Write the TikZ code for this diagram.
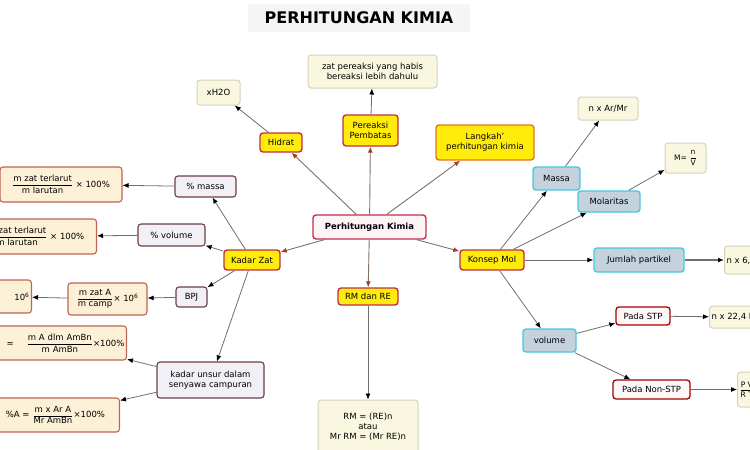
\documentclass[tikz,border=0pt]{standalone}
\usepackage{amsmath}
\usepackage{fontspec}
\setmainfont{DejaVu Sans}
\usetikzlibrary{arrows.meta,positioning}

\definecolor{kuning}{RGB}{255,236,10}
\definecolor{merah}{RGB}{195,45,75}
\definecolor{oranye}{RGB}{232,112,40}
\definecolor{krem}{RGB}{249,247,224}
\definecolor{kremtepi}{RGB}{214,210,186}
\definecolor{rumus}{RGB}{252,241,214}
\definecolor{rumustepi}{RGB}{190,100,80}
\definecolor{abu}{RGB}{240,240,246}
\definecolor{abutepi}{RGB}{110,60,70}
\definecolor{biru}{RGB}{196,210,222}
\definecolor{birutepi}{RGB}{70,200,225}
\definecolor{garis}{RGB}{110,110,110}
\definecolor{panahmerah}{RGB}{160,60,40}

\newcommand{\pecahan}[2]{$\dfrac{\text{#1}}{\text{#2}}$}

\begin{document}
\begin{tikzpicture}
  [x=1pt,y=-1pt,font=\fontsize{8.5}{10}\selectfont,
  box/.style={rounded corners=3pt,align=center,inner sep=2pt},
  yellowbox/.style={box,fill=kuning,draw=merah,line width=1.4pt},
  mainbox/.style={box,fill=merah!5,draw=merah,line width=1.4pt,font=\fontsize{8.5}{10}\selectfont\bfseries},
  leafbox/.style={box,fill=krem,draw=kremtepi,line width=1pt},
  formbox/.style={box,fill=rumus,draw=rumustepi,line width=1.1pt,font=\fontsize{8.5}{9}\selectfont},
  graybox/.style={box,fill=abu,draw=abutepi,line width=1.1pt},
  bluebox/.style={box,fill=biru,draw=birutepi,line width=1.4pt},
  redbox/.style={box,fill=merah!4,draw=red!65!black,line width=1.3pt},
  link/.style={draw=garis,line width=0.8pt,-{Latex[length=6pt,width=5pt,color=black]}},
  redlink/.style={draw=garis!80!brown,line width=0.9pt,-{Latex[length=6pt,width=5pt,color=panahmerah]}}]
  \useasboundingbox (0,0) rectangle (750,450);
  \clip (0,0) rectangle (750,450);

  % judul
  \node[fill=gray!8,minimum width=222,minimum height=28,font=\fontsize{16}{18}\selectfont\bfseries] (judul) at (359,18) {PERHITUNGAN KIMIA};

  % tengah
  \node[mainbox,minimum width=113,minimum height=24] (pk) at (369.5,227) {Perhitungan Kimia};
  \node[yellowbox,minimum width=42,minimum height=19] (hidrat) at (281,142.5) {Hidrat};
  \node[yellowbox,minimum width=55,minimum height=31] (pembatas) at (370.5,130.5) {Pereaksi\\Pembatas};
  \node[yellowbox,draw=oranye,minimum width=98,minimum height=35] (langkah) at (485,142.5) {Langkah'\\perhitungan kimia};
  \node[yellowbox,minimum width=56,minimum height=20] (kadar) at (252,260) {Kadar Zat};
  \node[yellowbox,minimum width=64,minimum height=20] (mol) at (492,260) {Konsep Mol};
  \node[yellowbox,minimum width=60,minimum height=17] (rmre) at (368,296.5) {RM dan RE};

  \node[leafbox,minimum width=43,minimum height=25] (xh2o) at (218.5,92.5) {xH2O};
  \node[leafbox,minimum width=129,minimum height=33] (habis) at (372.5,71.5) {zat pereaksi yang habis\\bereaksi lebih dahulu};
  \node[leafbox,minimum width=100,minimum height=54,inner sep=1pt] (rumusrm) at (368,427) {RM = (RE)n\\atau\\Mr RM = (Mr RE)n};

  % kadar zat
  \node[graybox,minimum width=61,minimum height=21] (massa) at (205.5,186.5) {\% massa};
  \node[graybox,minimum width=67,minimum height=22] (volpersen) at (171.5,235) {\% volume};
  \node[graybox,minimum width=31,minimum height=20] (bpj) at (191.5,297) {BPJ};
  \node[graybox,minimum width=107,minimum height=36] (unsur) at (210.5,380) {kadar unsur dalam\\senyawa campuran};

  \node[formbox,minimum width=122,minimum height=35] (f1) at (61,184.5) {\pecahan{m zat terlarut}{m larutan} × 100\%};
  \node[formbox,anchor=east,minimum width=122,minimum height=35] (f2) at (97,236.5) {\pecahan{m zat terlarut}{m larutan} × 100\%};
  \node[formbox,minimum width=79,minimum height=32] (f3) at (107.5,299) {\pecahan{m zat A}{m camp}× 10\textsuperscript{6}};
  \node[formbox,anchor=east,text width=62,align=right,minimum height=33] (f4) at (32,296.5) {10\textsuperscript{6}};
  \node[formbox,anchor=east,text width=126,align=right,minimum height=34] (f5) at (127,343) {= \hspace{10pt}\pecahan{m A dlm AmBn}{m AmBn}×100\%};
  \node[formbox,anchor=east,minimum width=128,minimum height=34] (f6) at (120,415) {\%A = \pecahan{m x Ar A}{Mr AmBn}×100\%};

  % konsep mol
  \node[bluebox,minimum width=47,minimum height=23] (massamol) at (556.5,178.5) {Massa};
  \node[bluebox,minimum width=62,minimum height=21] (molar) at (609,201.5) {Molaritas};
  \node[bluebox,minimum width=90,minimum height=24] (partikel) at (639,260) {Jumlah partikel};
  \node[bluebox,minimum width=53,minimum height=23] (volmol) at (549.5,340.5) {volume};
  \node[redbox,minimum width=54,minimum height=18] (stp) at (643,316) {Pada STP};
  \node[redbox,minimum width=77,minimum height=19] (nonstp) at (651.5,389.5) {Pada Non-STP};

  \node[leafbox,minimum width=60,minimum height=23] (arm) at (608,108.5) {n x Ar/Mr};
  \node[leafbox,minimum width=41,minimum height=30,font=\fontsize{7.5}{9}\selectfont] (mnv) at (685.5,158) {M= \pecahan{n}{V}};
  \node[leafbox,anchor=west,minimum height=28] (avogadro) at (724,260) {n x 6,02 x 10\textsuperscript{23}};
  \node[leafbox,anchor=west,minimum height=22] (vstp) at (709,317) {n x 22,4 L};
  \node[leafbox,anchor=west,minimum height=35,font=\fontsize{7.5}{9}\selectfont] (vnon) at (737,389.5) {\pecahan{P V}{R T}};

  % panah dari pusat
  \draw [redlink] (pk) -- (hidrat);
  \draw [redlink] (pk) -- (pembatas);
  \draw [redlink] (pk) -- (langkah);
  \draw [redlink] (pk) -- (kadar);
  \draw [redlink] (pk) -- (mol);
  \draw [redlink] (pk) -- (rmre);

  \draw [link] (hidrat) -- (xh2o);
  \draw [link] (pembatas) -- (habis);
  \draw [link] (rmre) -- (rumusrm);

  \draw [link] (kadar) -- (massa);
  \draw [link] (kadar) -- (volpersen);
  \draw [link] (kadar) -- (bpj);
  \draw [link] (kadar) -- (unsur);
  \draw [link] (massa) -- (f1);
  \draw [link] (volpersen) -- (f2);
  \draw [link] (bpj) -- (f3);
  \draw [link] (f3) -- (f4);
  \draw [link] (unsur) -- (f5);
  \draw [link] (unsur) -- (f6);

  \draw [link] (mol) -- (massamol);
  \draw [link] (mol) -- (molar);
  \draw [link] (mol) -- (partikel);
  \draw [link] (mol) -- (volmol);
  \draw [link] (massamol) -- (arm);
  \draw [link] (molar) -- (mnv);
  \draw [link,line width=1.8pt] (partikel) -- (avogadro);
  \draw [link] (volmol) -- (stp);
  \draw [link] (volmol) -- (nonstp);
  \draw [link] (stp) -- (vstp);
  \draw [link] (nonstp) -- (vnon);
\end{tikzpicture}
\end{document}
